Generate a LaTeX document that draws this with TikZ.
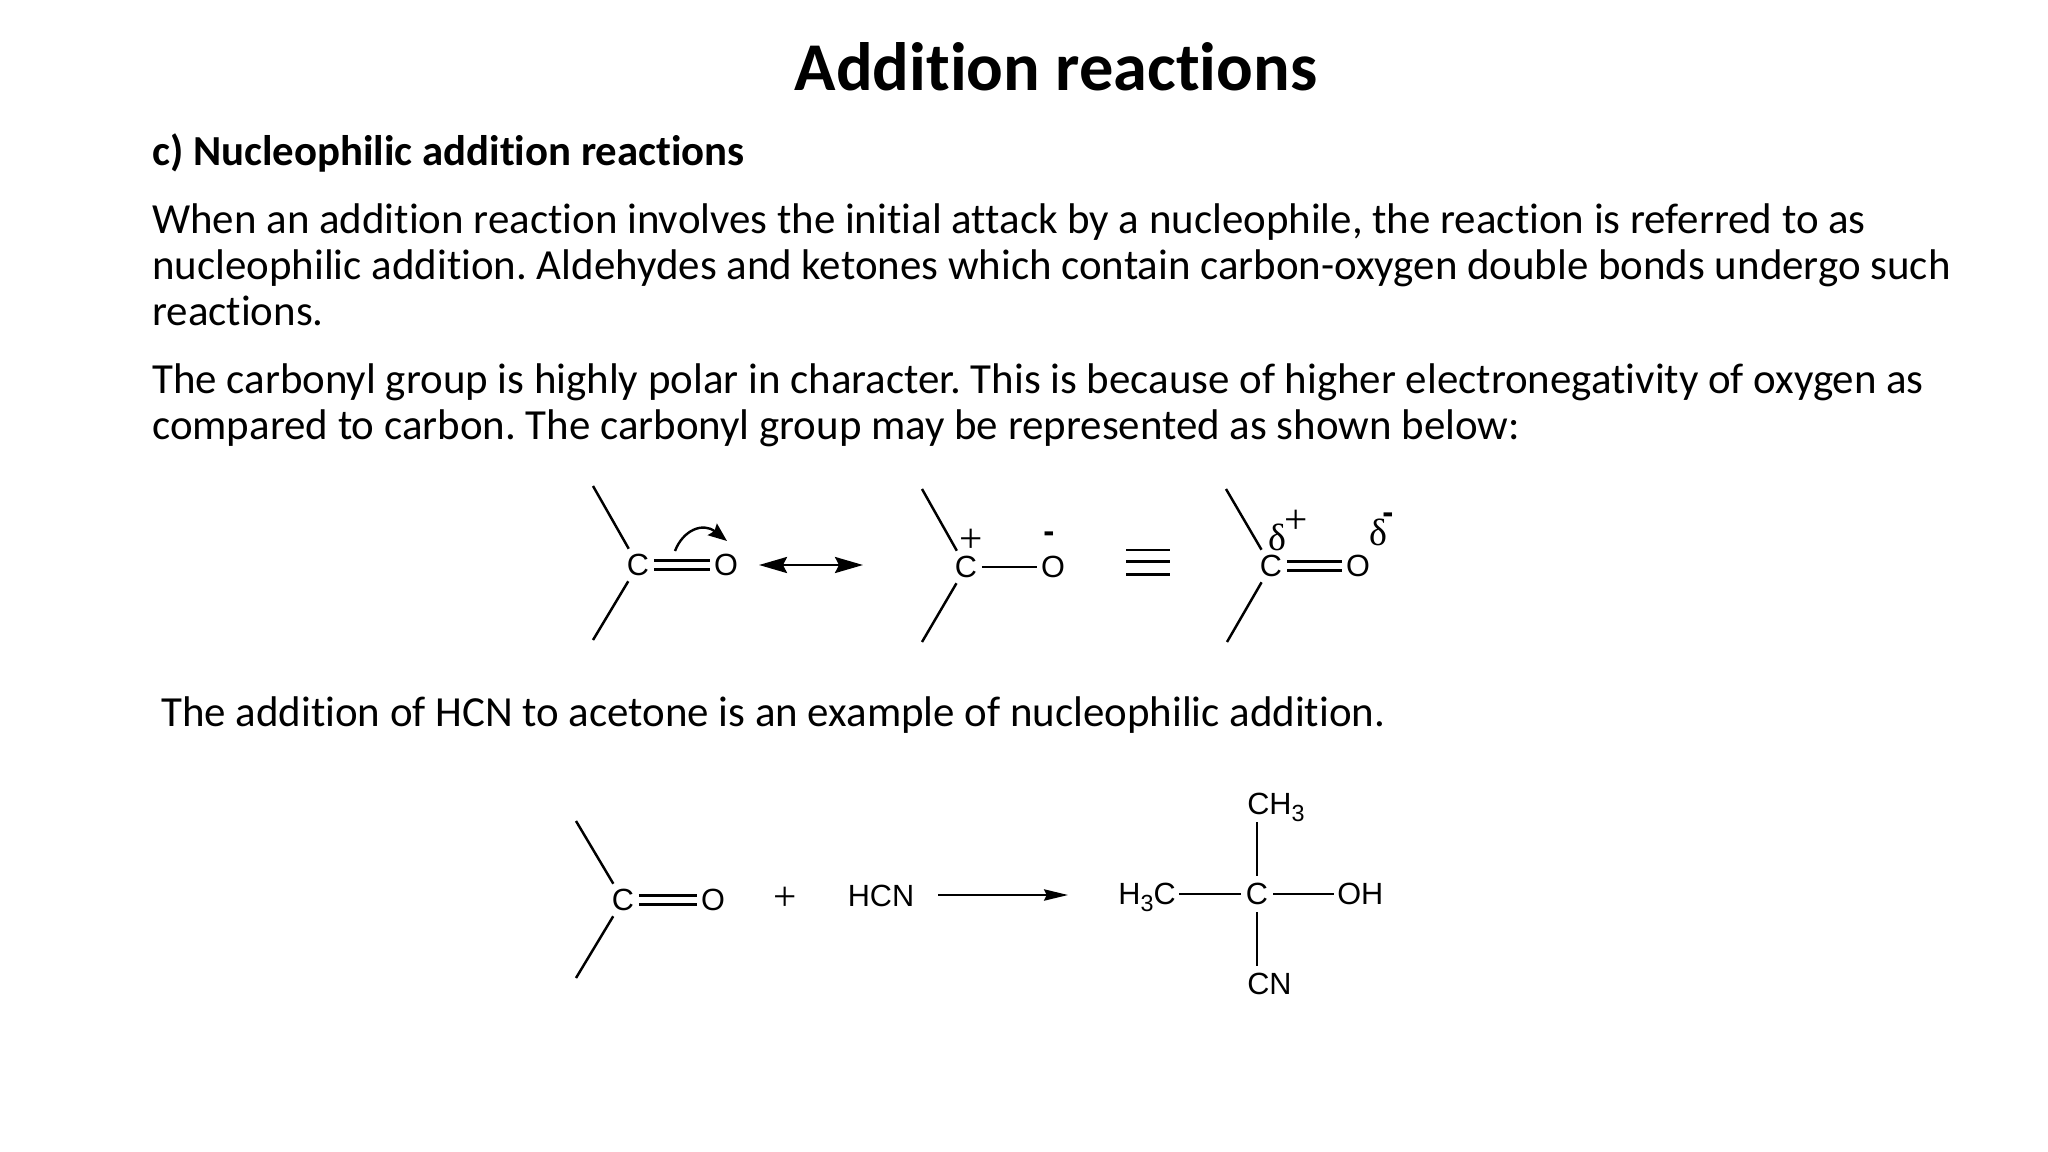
\documentclass[tikz,border=0pt]{standalone}
\usepackage{fontspec}
\usetikzlibrary{arrows.meta}
\setmainfont[Ligatures={NoCommon}]{Carlito}
\newfontfamily\chemsans{Liberation Sans}
\newfontfamily\chemserif{Liberation Serif}
\newcommand{\lowidx}[1]{\raisebox{-.22em}{\fontsize{17.5}{18}\selectfont #1}}
\frenchspacing
\tikzset{
  x=.75pt,y=-.75pt,
  title/.style={inner sep=0pt,anchor=base,font=\fontsize{51.3}{60}\selectfont\bfseries,text=black},
  head/.style={inner sep=0pt,anchor=base west,font=\fontsize{32.1}{40}\selectfont\bfseries,text=black},
  body/.style={inner sep=0pt,anchor=base west,font=\fontsize{32.18}{40}\selectfont,text=black},
  atom/.style={inner sep=0pt,minimum width=23.25pt,minimum height=24pt,text height=16.2pt,text depth=0pt,font=\chemsans\fontsize{23}{25}\selectfont},
  lab/.style={inner ysep=0pt,inner xsep=2.25pt,minimum height=27pt,text height=16.2pt,text depth=0pt,font=\chemsans\fontsize{23}{25}\selectfont},
  sign/.style={inner sep=0pt,font=\chemserif\fontsize{31}{33}\selectfont},
  deltasign/.style={inner sep=0pt,font=\chemserif\fontsize{28.5}{31}\selectfont},
  minussign/.style={inner sep=0pt,font=\chemsans\bfseries\fontsize{25}{27}\selectfont},
  bond/.style={line width=1.85pt,line cap=butt},
  dbond/.style={line width=1.85pt,double,double distance=5pt},
  bars/.style={line width=2.2pt},
  revarrow/.style={line width=2pt,{Stealth[length=21pt,width=12pt,inset=3pt]}-{Stealth[length=21pt,width=12pt,inset=3pt]}},
  fwdarrow/.style={line width=1.6pt,-{Stealth[length=18pt,width=8.5pt,inset=2pt]}},
  curlarrow/.style={line width=1.8pt,-{Stealth[length=14pt,width=11pt,inset=2pt]}}
}
\begin{document}
\begin{tikzpicture}
\useasboundingbox (0,0) rectangle (2048,1152);
\fill[white] (0,0) rectangle (2048,1152);
% texts
\node[title] (t0) at (1056,91) {Addition reactions};
\node[head] (t1) at (152,166) {c) Nucleophilic addition reactions};
\node[body] (t2) at (152,233) {When an addition reaction involves the initial attack by a nucleophile, the reaction is referred to as};
\node[body] (t3) at (152,279) {nucleophilic addition. Aldehydes and ketones which contain carbon-oxygen double bonds undergo such};
\node[body] (t4) at (152,325) {reactions.};
\node[body] (t5) at (152,393) {The carbonyl group is highly polar in character. This is because of higher electronegativity of oxygen as};
\node[body] (t6) at (152,439) {compared to carbon. The carbonyl group may be represented as shown below:};
\node[body] (t7) at (161,726) {The addition of HCN to acetone is an example of nucleophilic addition.};
% first structure
\node[atom] (c1) at (638,565) {C};
\node[atom] (o1) at (726,565) {O};
\coordinate (c1a) at (593,486);
\coordinate (c1b) at (593,640);
\draw[bond] (c1a) -- (c1);
\draw[bond] (c1b) -- (c1);
\draw[dbond] (c1) -- (o1);
\coordinate (cu1) at (675,551);
\coordinate (cu2) at (727,541);
\draw[curlarrow] (cu1) .. controls (683,530) and (703,522) .. (cu2);
% resonance arrow
\coordinate (r1) at (759,565);
\coordinate (r2) at (863,565);
\draw[revarrow] (r1) -- (r2);
% second structure
\node[atom] (c2) at (966,567) {C};
\node[atom] (o2) at (1053,567) {O};
\coordinate (c2a) at (922,489);
\coordinate (c2b) at (922,642);
\draw[bond] (c2a) -- (c2);
\draw[bond] (c2b) -- (c2);
\draw[bond] (c2) -- (o2);
\node[sign] (p2) at (971,541) {+};
\node[minussign] (m2) at (1049,537) {-};
% equivalence
\coordinate (e1a) at (1126,550); \coordinate (e1b) at (1170,550);
\coordinate (e2a) at (1126,561.5); \coordinate (e2b) at (1170,561.5);
\coordinate (e3a) at (1126,574.5); \coordinate (e3b) at (1170,574.5);
\draw[bars] (e1a) -- (e1b);
\draw[bars] (e2a) -- (e2b);
\draw[bars] (e3a) -- (e3b);
% third structure
\node[atom] (c3) at (1271,566) {C};
\node[atom] (o3) at (1358,566) {O};
\coordinate (c3a) at (1226,489);
\coordinate (c3b) at (1227,642);
\draw[bond] (c3a) -- (c3);
\draw[bond] (c3b) -- (c3);
\draw[dbond] (c3) -- (o3);
\node[deltasign] (d3) at (1277,537) {δ};
\node[sign] (p3) at (1296,522) {+};
\node[deltasign] (d4) at (1378,532) {δ};
\node[minussign] (m4) at (1388,518) {-};
% reaction
\node[atom] (c4) at (623,900) {C};
\node[atom] (o4) at (713,900) {O};
\coordinate (c4a) at (576,821);
\coordinate (c4b) at (576,978);
\draw[bond] (c4a) -- (c4);
\draw[bond] (c4b) -- (c4);
\draw[dbond] (c4) -- (o4);
\node[sign] (p4) at (785,899) {+};
\node[lab] (hcn) at (881,896) {HCN};
\coordinate (f1) at (938,895);
\coordinate (f2) at (1068,895);
\draw[fwdarrow] (f1) -- (f2);
% product
\node[lab,inner xsep=0pt,minimum width=24pt] (cc) at (1257,894) {C};
\node[lab,anchor=west,inner xsep=0pt] (ch) at (1247,804) {CH\lowidx{3}};
\node[lab,anchor=west,inner xsep=0pt] (cn) at (1247,984) {CN};
\node[lab,anchor=east] (me) at (1179,894) {H\lowidx{3}C};
\node[lab,anchor=west] (oh) at (1334,894) {OH};
\draw[bond] (cc.north) -- (cc.north |- ch.south);
\draw[bond] (cc.south) -- (cc.south |- cn.north);
\draw[bond] (cc) -- (me);
\draw[bond] (cc) -- (oh);
\end{tikzpicture}
\end{document}
